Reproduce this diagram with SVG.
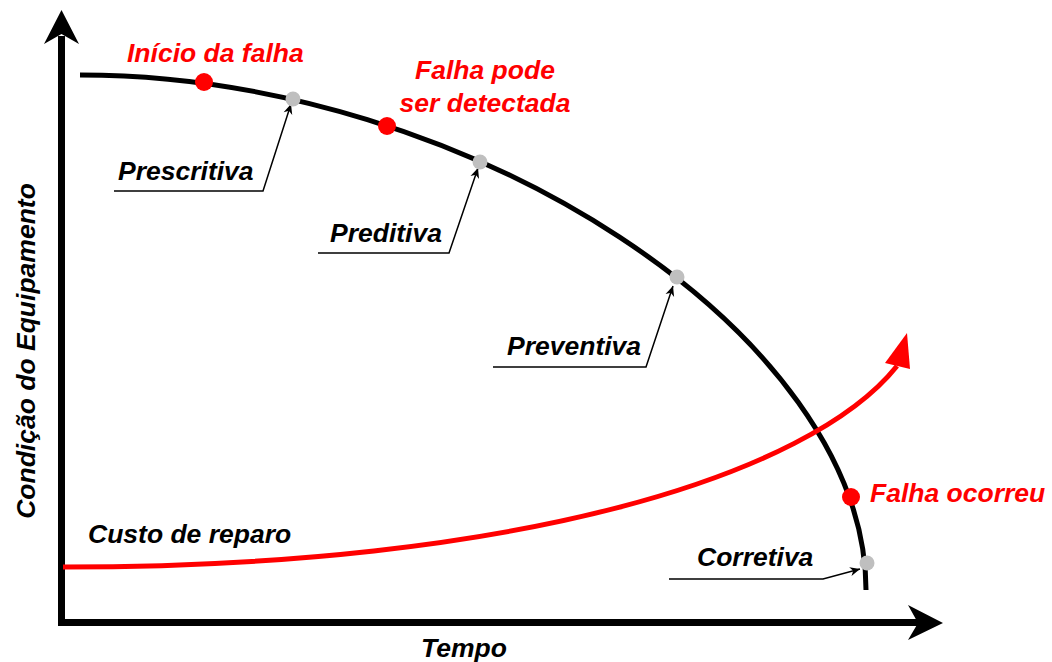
<svg xmlns="http://www.w3.org/2000/svg" width="1052" height="662" viewBox="0 0 1052 662">
  <style>
    .lbl { font-family: "Liberation Sans", Arial, sans-serif; font-weight: bold; font-style: italic; font-size: 26.5px; fill: #000000; }
    .red { fill: #FF0000; }
    .axis { stroke: #000000; stroke-width: 7; fill: none; }
    .leader { stroke: #000000; stroke-width: 1.5; fill: none; marker-end: url(#arr); }
    .gdot { fill: #BFBFBF; }
    .rdot { fill: #FF0000; }
  </style>
  <defs>
    <marker id="arr" viewBox="-11 -5 12 10" refX="0" refY="0" markerWidth="12" markerHeight="10" markerUnits="userSpaceOnUse" orient="auto">
      <path d="M0,0 L-10,-4.5 L-7,0 L-10,4.5 Z" fill="#000000"/>
    </marker>
  </defs>
  <rect width="1052" height="662" fill="#FFFFFF"/>

  <g id="axes">
    <line class="axis" x1="61.5" y1="626" x2="61.5" y2="36"/>
    <polygon points="61.5,10 79,44 61.5,34 44,44" fill="#000000"/>
    <line class="axis" x1="58" y1="622.5" x2="920" y2="622.5"/>
    <polygon points="943,623 908,605 918,623 908,640" fill="#000000"/>
    <text class="lbl" x="464" y="657" text-anchor="middle">Tempo</text>
    <text class="lbl" transform="translate(35,351) rotate(-90)" text-anchor="middle">Condição do Equipamento</text>
  </g>

  <g id="condition-curve">
    <path d="M80,75 C470,75 866,335 866,590" stroke="#000000" stroke-width="5" fill="none"/>
  </g>

  <g id="cost-curve">
    <path d="M63,567 C520,567 810,475 897,366" stroke="#FF0000" stroke-width="5" fill="none"/>
    <polygon points="907,333 885,363 910,369" fill="#FF0000"/>
    <text class="lbl" x="88" y="543">Custo de reparo</text>
  </g>

  <g id="connectors">
    <polyline class="leader" points="114,191 263,191 291,104"/>
    <polyline class="leader" points="318,253 449,253 478,168"/>
    <polyline class="leader" points="493,367 646,367 673,286"/>
    <polyline class="leader" points="669,579 823,579 860,569"/>
  </g>

  <g id="inicio-falha">
    <circle class="rdot" cx="204" cy="82" r="9"/>
    <text class="lbl red" x="127" y="62">Início da falha</text>
  </g>

  <g id="falha-detectada">
    <circle class="rdot" cx="387" cy="126" r="9"/>
    <text class="lbl red" x="485" y="79" text-anchor="middle">Falha pode</text>
    <text class="lbl red" x="485" y="112" text-anchor="middle">ser detectada</text>
  </g>

  <g id="falha-ocorreu">
    <circle class="rdot" cx="851" cy="497" r="9"/>
    <text class="lbl red" x="870" y="502">Falha ocorreu</text>
  </g>

  <g id="prescritiva">
    <circle class="gdot" cx="293" cy="99" r="7.5"/>
    <text class="lbl" x="118" y="180">Prescritiva</text>
  </g>

  <g id="preditiva">
    <circle class="gdot" cx="480" cy="162" r="7.5"/>
    <text class="lbl" x="330" y="242">Preditiva</text>
  </g>

  <g id="preventiva">
    <circle class="gdot" cx="677" cy="277" r="7.5"/>
    <text class="lbl" x="507" y="355">Preventiva</text>
  </g>

  <g id="corretiva">
    <circle class="gdot" cx="867" cy="563" r="7.5"/>
    <text class="lbl" x="697" y="566">Corretiva</text>
  </g>
</svg>
